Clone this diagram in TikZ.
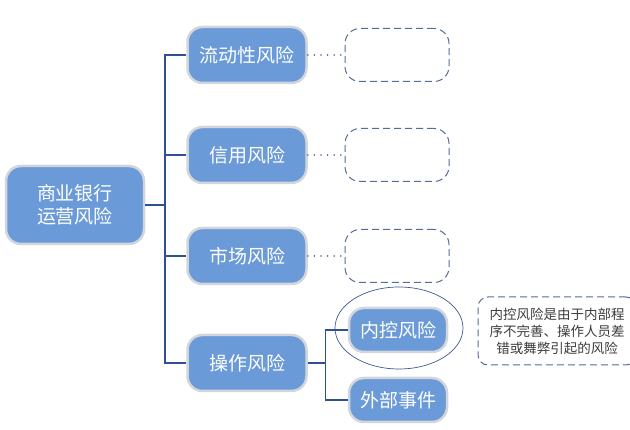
\documentclass[tikz,border=0pt]{standalone}
\usepackage{fontspec}
\newfontfamily\cjk{Noto Sans CJK SC}
\usetikzlibrary{shapes,arrows}
\usetikzlibrary{positioning}
\definecolor{boxblue}{RGB}{106,154,216}
\definecolor{rimgray}{RGB}{210,214,220}
\definecolor{linkblue}{RGB}{46,80,150}
\definecolor{dashblue}{RGB}{84,108,150}
\definecolor{notegray}{RGB}{60,60,60}
\tikzstyle{risk} = [draw=rimgray, line width=2.5pt, fill=boxblue, rounded corners=15pt, text=white, font=\cjk\fontsize{19}{23}\selectfont, minimum width=119pt, minimum height=56pt, align=center]
\tikzstyle{root} = [risk, minimum width=138pt, minimum height=78pt]
\tikzstyle{sub} = [risk, minimum width=98pt, minimum height=44pt]
\tikzstyle{blank} = [draw=dashblue, dash pattern=on 7pt off 4pt, line width=1pt, rounded corners=15pt, minimum width=104pt, minimum height=53pt]
\tikzstyle{ring} = [draw=linkblue!85!gray, line width=0.7pt, ellipse, minimum width=128pt, minimum height=82pt]
\tikzstyle{note} = [draw=dashblue, dash pattern=on 7pt off 4pt, line width=1pt, rounded corners=10pt, minimum width=158pt, minimum height=68pt, align=center, text=notegray, font=\cjk\fontsize{13.5}{17}\selectfont]
\tikzstyle{link} = [draw=linkblue, line width=1.3pt]
\tikzstyle{dots} = [draw=dashblue, line cap=round, dash pattern=on 0.1pt off 6.5pt, line width=1.6pt]

\begin{document}
\begin{tikzpicture}[x=1pt, y=1pt, node distance=100pt]
    \useasboundingbox (0,0) rectangle (630,-430);

    % Placing the blocks
    \node [root] (bank) at (75,-205) {商业银行\\运营风险};
    \node [risk] (liquidity) at (247,-55) {流动性风险};
    \node [risk, below of=liquidity] (credit) {信用风险};
    \node [risk, below of=credit, node distance=101pt] (market) {市场风险};
    \node [risk, below of=market, node distance=107pt] (operation) {操作风险};
    \coordinate (trunk) at (165,-205);

    \node [blank, right of=liquidity, node distance=150pt] (blankA) {};
    \node [blank, right of=credit, node distance=150pt] (blankB) {};
    \node [blank, right of=market, node distance=150pt] (blankC) {};

    \node [sub] (internal) at (398,-330) {内控风险};
    \node [sub, below of=internal, node distance=70pt] (external) {外部事件};
    \node [ring] (circle) at (399,-328) {};
    \coordinate [right=18pt of operation.east] (fork);
    \node [note] (remark) at (557,-331) {内控风险是由于内部程\\序不完善、操作人员差\\错或舞弊引起的风险};

    % Connecting the nodes
    \draw [link] (bank) -- (trunk);
    \foreach \branch in {liquidity,credit,market,operation}
        \draw [link] (trunk) |- (\branch.west);
    \draw [link] (operation) -- (fork);
    \draw [link] (fork) |- (internal.west);
    \draw [link] (fork) |- (external.west);

    \draw [dots] (liquidity) -- (blankA);
    \draw [dots] (credit) -- (blankB);
    \draw [dots] (market) -- (blankC);
\end{tikzpicture}
\end{document}
